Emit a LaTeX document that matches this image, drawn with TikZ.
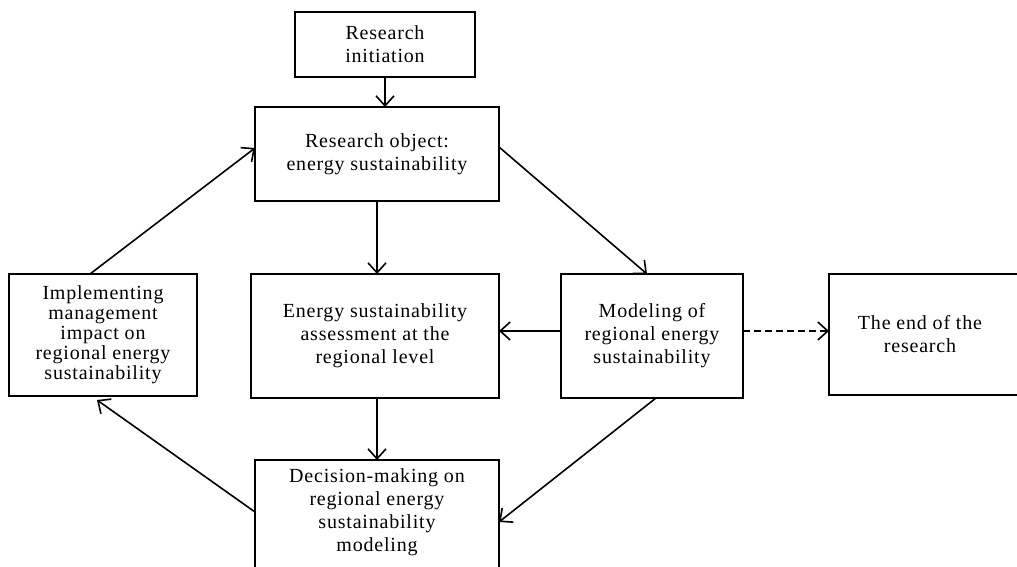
\documentclass[tikz,border=0pt]{standalone}
\usepackage{fontspec}
\setmainfont{Liberation Serif}[LetterSpace=4]
\usetikzlibrary{arrows.meta}
\tikzset{
  box/.style={draw, line width=1.7pt, inner sep=0pt, outer sep=0pt, align=center,
    font=\fontsize{20}{23}\selectfont},
  txt/.style={inner sep=0pt, align=center, font=\fontsize{20}{23}\selectfont},
  conn/.style={line width=1.6pt, -{Straight Barb[length=10pt,width=18pt,line width=1.6pt]}},
}
\begin{document}
\begin{tikzpicture}[x=1pt,y=-1pt]
\useasboundingbox (0,0) rectangle (1017,567);
\clip (0,0) rectangle (1017,567);
\fill[white] (0,0) rectangle (1017,567);
\node[box, minimum width=180pt, minimum height=65pt] (init) at (385,44.5) {Research\\initiation};
\node[box, minimum width=244pt, minimum height=94pt] (obj) at (377,154) {Research object:\\energy sustainability};
\node[box, minimum width=188pt, minimum height=122pt, font=\fontsize{20}{20}\selectfont] (impl) at (103,335) {Implementing\\management\\impact on\\regional energy\\sustainability};
\node[box, minimum width=248pt, minimum height=124pt] (assess) at (375,336) {Energy sustainability\\assessment at the\\regional level};
\node[box, minimum width=182pt, minimum height=124pt] (model) at (652,336) {Modeling of\\regional energy\\sustainability};
\node[box, minimum width=201pt, minimum height=121pt] (endr) at (929.5,334.5) {};
\node[txt] (endtext) at (920,334.5) {The end of the\\research};
\node[box, minimum width=244pt, minimum height=130pt] (dec) at (377,525) {};
\node[txt] (dectext) at (377,512) {Decision-making on\\regional energy\\sustainability\\modeling};

\draw[conn] (init.south) -- (init.south |- obj.north);
\draw[conn] (obj.south) -- (obj.south |- assess.north);
\draw[conn] ([yshift=7pt]obj.east) -- ([xshift=-5pt]model.north);
\draw[conn] ([xshift=-13pt]impl.north) -- ([yshift=6pt]obj.west);
\draw[conn] ([yshift=5pt]model.west) -- ([yshift=5pt]assess.east);
\draw[conn, dash pattern=on 7pt off 4pt] ([yshift=5pt]model.east) -- ([yshift=5pt]model.east -| endr.west);
\draw[conn] ([xshift=4pt]model.south) -- ([yshift=3pt]dec.east);
\draw[conn] (dec.north |- assess.south) -- (dec.north);
\draw[conn] ([yshift=13pt]dec.west) -- ([xshift=-6pt,yshift=-4pt]impl.south);
\end{tikzpicture}
\end{document}
